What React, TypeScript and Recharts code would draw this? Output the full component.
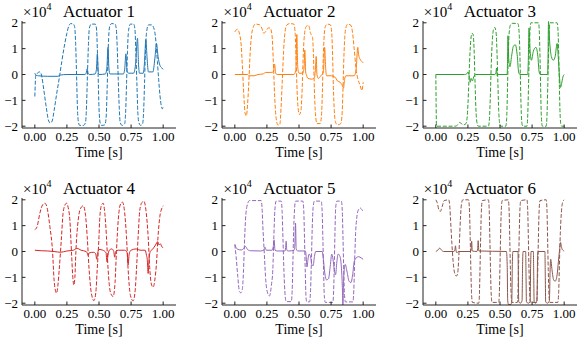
import { LineChart, Line, XAxis, YAxis } from 'recharts';

type Pt = [number, number];

// time [s] vs force [x1e4 N]; "Cmd" = dashed, "Out" = solid
const act1Cmd: Pt[] = [
  [0, -0.85], [0.008, 0.0], [0.02, 0.05], [0.035, 0.1], [0.045, 0.08], [0.055, -0.1], [0.07, -0.6],
  [0.09, -1.3], [0.105, -1.75], [0.12, -1.88], [0.135, -1.8], [0.15, -1.4], [0.17, -0.75], [0.19, -0.15],
  [0.21, 0.5], [0.23, 1.1], [0.25, 1.6], [0.265, 1.88], [0.28, 1.97], [0.3, 1.95], [0.31, 1.85],
  [0.318, 1.2], [0.325, 0], [0.332, -1.3], [0.34, -1.85], [0.35, -1.97], [0.38, -1.97], [0.395, -1.85],
  [0.403, -1.2], [0.41, 0], [0.418, 1.2], [0.425, 1.8], [0.44, 1.95], [0.47, 1.95], [0.48, 1.8],
  [0.487, 1.0], [0.493, 0], [0.5, -1.3], [0.51, -1.9], [0.52, -1.97], [0.545, -1.95], [0.555, -1.7],
  [0.562, -0.8], [0.568, 0.3], [0.575, 1.4], [0.585, 1.9], [0.6, 1.97], [0.625, 1.95], [0.635, 1.75],
  [0.643, 0.9], [0.65, -0.2], [0.658, -1.3], [0.665, -1.85], [0.68, -1.97], [0.7, -1.9], [0.708, -1.4],
  [0.715, -0.3], [0.722, 0.9], [0.73, 1.7], [0.745, 1.95], [0.77, 1.95], [0.78, 1.75], [0.787, 0.9],
  [0.795, -0.3], [0.802, -1.4], [0.81, -1.85], [0.825, -1.97], [0.84, -1.9], [0.848, -1.4], [0.855, -0.3],
  [0.862, 0.9], [0.87, 1.6], [0.885, 1.92], [0.91, 1.92], [0.93, 1.75], [0.945, 1.2], [0.955, 0.5],
  [0.965, -0.2], [0.975, -0.8], [0.985, -1.2], [0.993, -1.33], [1.0, -1.25],
];
const act1Out: Pt[] = [
  [0, 0.05], [0.01, -0.03], [0.03, -0.05], [0.1, -0.07], [0.18, -0.07], [0.2, -0.02], [0.25, 0],
  [0.39, 0], [0.4, 0.05], [0.408, 0.22], [0.415, 0.05], [0.425, 0], [0.47, 0.02], [0.48, 0.2],
  [0.487, 0.8], [0.493, 0.15], [0.5, 0], [0.55, 0.02], [0.562, 0.3], [0.57, 1.05], [0.577, 0.25],
  [0.585, 0.02], [0.69, 0.02], [0.7, 0.2], [0.71, 0.8], [0.718, 0.15], [0.73, 0.05], [0.77, 0.05],
  [0.785, 0.4], [0.8, 1.4], [0.808, 0.4], [0.815, 0.05], [0.845, 0.05], [0.855, 0.5], [0.865, 1.35],
  [0.875, 0.6], [0.885, 0.1], [0.92, 0.1], [0.935, 0.6], [0.948, 1.2], [0.96, 0.7], [0.975, 0.35],
  [0.99, 0.25], [1.0, 0.2],
];

const act2Cmd: Pt[] = [
  [0, 1.65], [0.02, 1.75], [0.035, 1.6], [0.05, 1.1], [0.06, 0.2], [0.07, -0.8], [0.08, -1.5], [0.09, -1.6],
  [0.1, -1.1], [0.11, -0.2], [0.12, 0.9], [0.13, 1.5], [0.145, 1.85], [0.16, 1.95], [0.19, 1.93],
  [0.21, 1.8], [0.225, 1.6], [0.24, 1.65], [0.26, 1.8], [0.275, 1.8], [0.29, 1.5], [0.3, 0.5],
  [0.31, -0.8], [0.32, -1.6], [0.335, -1.95], [0.35, -1.95], [0.36, -1.3], [0.37, -0.2], [0.38, 0.9],
  [0.39, 1.6], [0.405, 1.92], [0.43, 1.97], [0.46, 1.95], [0.47, 1.6], [0.478, 0.5], [0.485, -0.6],
  [0.493, -1.3], [0.503, -1.55], [0.515, -1.4], [0.525, -0.5], [0.532, 0.6], [0.54, 1.4], [0.555, 1.85],
  [0.575, 1.9], [0.59, 1.6], [0.605, 1.45], [0.613, 0.7], [0.62, -0.6], [0.628, -1.5], [0.64, -1.9],
  [0.665, -1.9], [0.675, -1.6], [0.682, -0.7], [0.688, 0.5], [0.695, 1.4], [0.705, 1.85], [0.72, 1.95],
  [0.745, 1.92], [0.755, 1.6], [0.762, 0.7], [0.768, -0.5], [0.775, -1.4], [0.785, -1.85], [0.8, -1.95],
  [0.825, -1.9], [0.835, -1.6], [0.842, -0.7], [0.848, 0.4], [0.855, 1.3], [0.865, 1.8], [0.88, 1.95],
  [0.905, 1.9], [0.915, 1.7], [0.93, 1.0], [0.945, 0.2], [0.96, -0.2], [0.975, -0.4], [0.99, -0.62],
  [1.0, -0.3],
];
const act2Out: Pt[] = [
  [0, 0], [0.1, 0], [0.11, -0.05], [0.15, -0.05], [0.18, 0], [0.22, 0.02], [0.24, 0.08], [0.28, 0.08],
  [0.3, 0.1], [0.31, 0.4], [0.318, 0.05], [0.33, 0], [0.46, 0], [0.475, 0.15], [0.483, 1.55], [0.49, 0.3],
  [0.5, 0.05], [0.53, 0.05], [0.54, 0.3], [0.545, 0.95], [0.552, 0.1], [0.56, -0.05], [0.57, -0.15],
  [0.6, -0.18], [0.62, -0.12], [0.628, 0.2], [0.634, 0.7], [0.64, 0.0], [0.65, -0.15], [0.67, -0.05],
  [0.69, 0.1], [0.7, 1.05], [0.707, 0.3], [0.715, -0.05], [0.75, -0.05], [0.78, -0.1], [0.8, -0.25],
  [0.82, -0.3], [0.835, -0.4], [0.847, -0.52], [0.855, -0.2], [0.865, -0.05], [0.93, -0.05],
  [0.945, 0.2], [0.958, 1.05], [0.965, 0.75], [0.975, 0.6], [0.99, 0.5], [1.0, 0.45],
];

const act3Cmd: Pt[] = [
  [0, 0], [0.002, -1.0], [0.005, -2.0], [0.15, -2.0], [0.17, -1.95], [0.185, -1.86], [0.2, -1.9],
  [0.215, -1.95], [0.235, -1.9], [0.245, -1.6], [0.255, -0.6], [0.263, 0.5], [0.272, 1.3], [0.282, 1.6],
  [0.29, 1.55], [0.298, 1.0], [0.305, -0.2], [0.312, -1.3], [0.32, -1.85], [0.33, -2.0], [0.41, -2.0],
  [0.418, -1.7], [0.425, -0.8], [0.432, 0.4], [0.44, 1.3], [0.45, 1.75], [0.46, 1.82], [0.47, 1.6],
  [0.477, 0.8], [0.484, -0.4], [0.49, -1.4], [0.498, -1.9], [0.505, -2.0], [0.545, -2.0], [0.552, -1.7],
  [0.558, -0.6], [0.564, 0.6], [0.57, 1.5], [0.58, 1.9], [0.595, 1.98], [0.64, 1.97], [0.648, 1.7],
  [0.655, 0.8], [0.66, -0.4], [0.666, -1.5], [0.673, -1.95], [0.68, -2.0], [0.71, -2.0], [0.716, -1.6],
  [0.722, -0.5], [0.727, 0.6], [0.733, 1.6], [0.74, 2.0], [0.8, 2.0], [0.806, 1.7], [0.812, 0.6],
  [0.817, -0.6], [0.822, -1.6], [0.83, -2.0], [0.86, -2.0], [0.866, -1.6], [0.872, -0.5], [0.877, 0.6],
  [0.882, 1.6], [0.89, 2.0], [0.945, 2.0], [0.952, 1.7], [0.958, 0.7], [0.963, -0.5], [0.968, -1.5],
  [0.975, -1.95], [0.98, -2.0], [1.0, -2.0],
];
const act3Out: Pt[] = [
  [0, 0], [0.225, 0], [0.24, 0.02], [0.25, 0.1], [0.26, -0.05], [0.268, -0.3], [0.275, -0.15],
  [0.285, -0.25], [0.295, -0.1], [0.31, 0], [0.46, 0], [0.468, 0.05], [0.473, 0.25], [0.478, -0.05],
  [0.485, 0], [0.555, 0], [0.558, 0.3], [0.562, 1.5], [0.568, 0.6], [0.578, 0.3], [0.59, 0.7],
  [0.605, 1.1], [0.62, 1.15], [0.635, 0.7], [0.645, 0.1], [0.655, 0], [0.715, 0], [0.72, 0.4],
  [0.726, 1.8], [0.735, 0.9], [0.745, 0.55], [0.76, 0.9], [0.78, 1.05], [0.795, 0.7], [0.805, 0.1],
  [0.815, 0], [0.87, 0], [0.874, 0.5], [0.878, 2.05], [0.888, 1.2], [0.9, 0.7], [0.915, 0.55],
  [0.93, 0.7], [0.945, 1.2], [0.955, 0.6], [0.965, -0.2], [0.972, -0.5], [0.98, -0.35], [0.99, -0.1],
  [1.0, 0],
];

const act4Cmd: Pt[] = [
  [0, 0.84], [0.018, 0.97], [0.04, 1.5], [0.06, 1.8], [0.078, 1.87], [0.095, 1.7], [0.117, 0.97],
  [0.138, 0], [0.15, -1.1], [0.16, -1.5], [0.169, -1.61], [0.18, -1.3], [0.19, -0.7], [0.208, 0.58],
  [0.22, 1.48], [0.235, 1.8], [0.247, 1.87], [0.26, 1.7], [0.273, 1.22], [0.286, -0.06], [0.296, -1.0],
  [0.304, -1.3], [0.312, -1.0], [0.32, 0.0], [0.338, 1.22], [0.355, 1.65], [0.377, 1.77], [0.395, 1.4],
  [0.408, 0.58], [0.423, -0.7], [0.44, -1.6], [0.46, -1.9], [0.475, -1.6], [0.486, -0.7], [0.5, 0.58],
  [0.506, 1.3], [0.52, 1.8], [0.532, 1.87], [0.545, 1.5], [0.558, 0.58], [0.571, -0.7], [0.59, -1.6],
  [0.61, -1.74], [0.625, -1.2], [0.636, 0.0], [0.65, 1.22], [0.665, 1.8], [0.683, 1.91], [0.7, 1.5],
  [0.714, 0.58], [0.727, -0.7], [0.745, -1.7], [0.766, -1.91], [0.782, -1.5], [0.792, -0.7], [0.805, 0.58],
  [0.818, 1.6], [0.835, 1.9], [0.85, 1.94], [0.868, 1.5], [0.883, 0.58], [0.896, -0.7], [0.91, -1.3],
  [0.922, -1.38], [0.935, -1.1], [0.948, -0.45], [0.96, 0.58], [0.974, 1.35], [0.988, 1.65], [1.0, 1.77],
];
const act4Out: Pt[] = [
  [0, 0.05], [0.05, 0.03], [0.1, 0.02], [0.15, 0.0], [0.2, -0.03], [0.25, 0.02], [0.3, 0.05], [0.33, 0.12],
  [0.36, 0.05], [0.4, 0.0], [0.41, -0.08], [0.415, -0.15], [0.425, -0.05], [0.46, -0.03], [0.475, -0.1],
  [0.482, -0.3], [0.49, -0.05], [0.5, 0.08], [0.53, 0.05], [0.555, -0.05], [0.562, -0.4], [0.57, -0.15],
  [0.58, 0.05], [0.6, 0.1], [0.615, 0.0], [0.622, -0.22], [0.63, 0.0], [0.65, 0.05], [0.7, 0.05],
  [0.72, -0.05], [0.727, -0.52], [0.735, -0.1], [0.75, 0.05], [0.79, 0.1], [0.82, 0.05], [0.86, 0.05],
  [0.87, -0.15], [0.876, -0.3], [0.883, -0.85], [0.89, -0.3], [0.9, 0.0], [0.92, 0.1], [0.94, 0.25],
  [0.958, 0.38], [0.968, 0.25], [0.978, 0.3], [0.99, 0.18], [1.0, 0.15],
];

const act5Cmd: Pt[] = [
  [0, 0.26], [0.01, -0.2], [0.023, -0.97], [0.036, -1.55], [0.047, -1.6], [0.057, -1.5], [0.068, -0.7],
  [0.075, 0.32], [0.083, 1.22], [0.094, 1.74], [0.114, 1.97], [0.205, 1.97], [0.212, 1.7], [0.218, 1.0],
  [0.23, -0.1], [0.239, -0.97], [0.255, -1.6], [0.27, -1.72], [0.285, -1.3], [0.296, -0.7], [0.304, 0.58],
  [0.312, 1.6], [0.322, 1.95], [0.361, 1.95], [0.368, 1.6], [0.375, 0.5], [0.383, -0.8], [0.392, -1.7],
  [0.4, -1.94], [0.44, -1.94], [0.447, -1.5], [0.453, -0.3], [0.459, 0.9], [0.466, 1.7], [0.473, 1.95],
  [0.53, 1.95], [0.537, 1.6], [0.543, 0.5], [0.549, -0.8], [0.554, -1.7], [0.56, -1.95], [0.582, -1.95],
  [0.59, -1.5], [0.597, -0.3], [0.603, 0.9], [0.61, 1.7], [0.62, 1.95], [0.673, 1.95], [0.68, 1.6],
  [0.686, 0.5], [0.692, -0.8], [0.697, -1.7], [0.705, -1.97], [0.764, -1.97], [0.77, -1.5], [0.776, -0.3],
  [0.781, 0.9], [0.786, 1.7], [0.795, 1.95], [0.83, 1.95], [0.837, 1.6], [0.843, 0.5], [0.849, -0.8],
  [0.855, -1.7], [0.862, -1.95], [0.92, -1.95], [0.927, -1.5], [0.934, -0.3], [0.941, 0.7], [0.95, 1.3],
  [0.962, 1.6], [0.977, 1.68], [0.99, 1.62], [1.0, 1.55],
];
const act5Out: Pt[] = [
  [0, 0.28], [0.01, 0.15], [0.025, 0.08], [0.05, 0.06], [0.07, 0.12], [0.082, 0.2], [0.095, 0.1],
  [0.12, 0.03], [0.2, 0.02], [0.225, 0.05], [0.235, 0.17], [0.245, 0.05], [0.29, 0.05], [0.3, 0.2],
  [0.306, 0.45], [0.313, 0.05], [0.33, 0.02], [0.39, 0.02], [0.396, 0.15], [0.4, 0.4], [0.405, 0.05],
  [0.42, 0.02], [0.462, 0.05], [0.468, 0.3], [0.473, 1.1], [0.478, 0.1], [0.49, 0.02], [0.55, 0.02],
  [0.556, -0.2], [0.562, -0.6], [0.57, -0.3], [0.578, -0.1], [0.59, -0.2], [0.6, -0.5], [0.61, -0.55],
  [0.62, -0.2], [0.63, 0.0], [0.68, 0.0], [0.69, -0.3], [0.7, -0.8], [0.715, -1.1], [0.73, -1.05],
  [0.745, -0.5], [0.755, -0.1], [0.765, -0.3], [0.775, -0.7], [0.785, -0.9], [0.795, -0.4], [0.805, -0.1],
  [0.82, -0.2], [0.83, -0.6], [0.838, -1.4], [0.842, -2.1], [0.848, -1.0], [0.86, -0.5], [0.875, -0.8],
  [0.89, -1.15], [0.905, -1.2], [0.918, -0.9], [0.93, -0.4], [0.945, -0.25], [0.965, -0.2], [0.985, -0.25],
  [1.0, -0.3],
];

const act6Cmd: Pt[] = [
  [0, 2.0], [0.01, 1.9], [0.025, 1.6], [0.035, 1.55], [0.05, 1.75], [0.065, 1.97], [0.1, 2.0], [0.108, 1.8],
  [0.115, 1.2], [0.125, 0.3], [0.135, -0.4], [0.145, -0.8], [0.16, -0.95], [0.17, -0.85], [0.178, -0.3],
  [0.185, 0.5], [0.192, 1.3], [0.2, 1.85], [0.21, 2.0], [0.255, 2.0], [0.262, 1.6], [0.268, 0.5],
  [0.273, -0.7], [0.278, -1.6], [0.285, -1.97], [0.335, -2.0], [0.34, -1.6], [0.345, -0.5], [0.35, 0.7],
  [0.355, 1.6], [0.362, 1.97], [0.41, 2.0], [0.416, 1.6], [0.421, 0.5], [0.426, -0.7], [0.431, -1.6],
  [0.438, -1.97], [0.49, -1.97], [0.495, -1.6], [0.5, -0.5], [0.505, 0.7], [0.51, 1.6], [0.517, 1.97],
  [0.565, 2.0], [0.571, 1.6], [0.576, 0.5], [0.581, -0.7], [0.586, -1.6], [0.593, -1.97], [0.635, -1.97],
  [0.64, -1.6], [0.645, -0.5], [0.65, 0.7], [0.655, 1.6], [0.662, 1.97], [0.71, 2.0], [0.716, 1.6],
  [0.721, 0.5], [0.726, -0.7], [0.731, -1.6], [0.738, -1.97], [0.785, -1.97], [0.79, -1.6], [0.795, -0.5],
  [0.8, 0.7], [0.805, 1.6], [0.812, 1.97], [0.86, 2.0], [0.866, 1.6], [0.871, 0.5], [0.876, -0.7],
  [0.881, -1.6], [0.888, -1.97], [0.95, -1.97], [0.957, -1.6], [0.963, -0.5], [0.97, 0.7], [0.978, 1.5],
  [0.988, 1.9], [1.0, 2.0],
];
const act6Out: Pt[] = [
  [0, 0], [0.015, 0.05], [0.03, 0.13], [0.045, 0.05], [0.06, 0], [0.14, 0], [0.148, 0.05], [0.153, 0.22],
  [0.158, 0.02], [0.165, -0.05], [0.175, 0], [0.27, 0], [0.275, 0.1], [0.279, 0.4], [0.284, 0.02],
  [0.32, 0], [0.326, 0.1], [0.33, 0.42], [0.335, 0.02], [0.55, 0], [0.556, -0.5], [0.56, -1.9],
  [0.566, -2.05], [0.585, -2.05], [0.592, -1.9], [0.596, -0.5], [0.6, 0], [0.64, 0], [0.643, -1.0],
  [0.646, -1.95], [0.66, -2.0], [0.672, -1.9], [0.676, -0.5], [0.68, 0], [0.7, 0], [0.703, -1.0],
  [0.706, -1.95], [0.72, -2.0], [0.735, -1.95], [0.739, -0.5], [0.742, 0], [0.76, 0], [0.763, -1.0],
  [0.766, -1.95], [0.778, -2.0], [0.788, -1.9], [0.792, -0.5], [0.795, 0], [0.85, 0], [0.853, -1.0],
  [0.856, -1.95], [0.87, -2.0], [0.885, -1.9], [0.89, -0.8], [0.895, -0.3], [0.905, -0.7], [0.918, -1.1],
  [0.93, -1.15], [0.945, -0.9], [0.955, -0.4], [0.963, 0.0], [0.972, 0.35], [0.978, 0.2], [0.985, 0.08],
  [1.0, 0.02],
];

const titles = ['Actuator 1', 'Actuator 2', 'Actuator 3', 'Actuator 4', 'Actuator 5', 'Actuator 6'];
const colors = ['#1f77b4', '#ff7f0e', '#2ca02c', '#d62728', '#9467bd', '#8c564b'];
const xTicks = [0, 0.25, 0.5, 0.75, 1];
const yTicks = [-2, -1, 0, 1, 2];

const FONT = '"Liberation Serif", "DejaVu Serif", serif';
const X_DOMAIN: [number, number] = [-0.1, 1.1];
const Y_DOMAIN: [number, number] = [-2.07, 2.07];

// inner axes box position of each panel on the page
const colX = [22, 222.4, 422.8];
const rowY = [20.5, 198.2];
const BOX_W = 154;

const toPts = (arr: Pt[]) => arr.map(([t, v]) => ({ t, v }));
const fmtY = (v: number) => (v < 0 ? `\u2212${-v}` : `${v}`);

function Panel({ idx, cmd, out }: { idx: number; cmd: Pt[]; out: Pt[] }) {
  const bx = colX[idx % 3];
  const by = rowY[Math.floor(idx / 3)];
  const color = colors[idx];
  const tickStyle = { fill: '#000', fontSize: 13, fontFamily: FONT };

  return (
    <div style={{ position: 'absolute', left: bx - 22, top: by - 20 }}>
      <LineChart width={200} height={170} margin={{ top: 20, right: 24, bottom: 3, left: 0 }}>
        <XAxis
          type="number"
          dataKey="t"
          domain={X_DOMAIN}
          ticks={xTicks}
          interval={0}
          allowDataOverflow
          tickFormatter={(v: number) => v.toFixed(2)}
          tickSize={-3.5}
          tickMargin={7}
          height={40}
          stroke="#222"
          tick={tickStyle}
          label={{ value: 'Time [s]', position: 'insideBottom', offset: 11.5, fill: '#000', fontSize: 14, fontFamily: FONT }}
        />
        <XAxis xAxisId="top" orientation="top" type="number" domain={X_DOMAIN} height={0} tick={false} tickLine={false} stroke="#222" />
        <YAxis
          type="number"
          domain={Y_DOMAIN}
          ticks={yTicks}
          interval={0}
          allowDataOverflow
          tickFormatter={fmtY}
          tickSize={-3.5}
          tickMargin={7.5}
          width={22}
          stroke="#222"
          tick={tickStyle}
        />
        <YAxis yAxisId="right" orientation="right" type="number" domain={Y_DOMAIN} width={0} tick={false} tickLine={false} stroke="#222" />
        <Line
          data={toPts(cmd)}
          dataKey="v"
          type="monotone"
          stroke={color}
          strokeWidth={1}
          strokeDasharray="4 1.8"
          dot={false}
          isAnimationActive={false}
        />
        <Line
          data={toPts(out)}
          dataKey="v"
          type="monotone"
          stroke={color}
          strokeWidth={1}
          dot={false}
          isAnimationActive={false}
        />
      </LineChart>
    </div>
  );
}

export default function App() {
  const series: [Pt[], Pt[]][] = [
    [act1Cmd, act1Out],
    [act2Cmd, act2Out],
    [act3Cmd, act3Out],
    [act4Cmd, act4Out],
    [act5Cmd, act5Out],
    [act6Cmd, act6Out],
  ];

  return (
    <div style={{ position: 'absolute', left: 0, top: 0, width: 581, height: 341, background: '#fff', fontFamily: FONT }}>
      {series.map(([cmd, out], i) => (
        <Panel key={i} idx={i} cmd={cmd} out={out} />
      ))}
      <svg width={581} height={341} style={{ position: 'absolute', left: 0, top: 0, pointerEvents: 'none' }}>
        {titles.map((title, i) => {
          const bx = colX[i % 3];
          const base = rowY[Math.floor(i / 3)] - 3.8;
          return (
            <g key={title} fontFamily={FONT} fill="#000">
              <text x={bx + BOX_W / 2} y={base} fontSize={17} textAnchor="middle">{title}</text>
              <text x={bx + 1} y={base} fontSize={15}>
                ×10<tspan fontSize={10} dy={-7}>4</tspan>
              </text>
            </g>
          );
        })}
      </svg>
    </div>
  );
}
